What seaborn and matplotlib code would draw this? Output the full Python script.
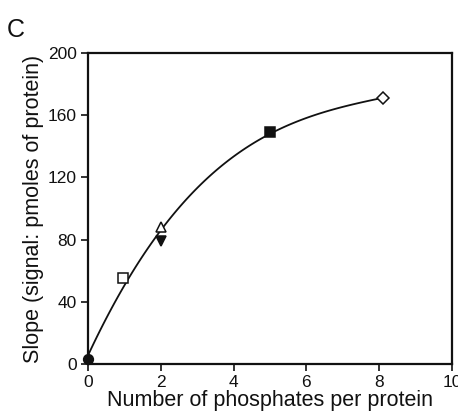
import matplotlib
matplotlib.use("Agg")
import matplotlib.pyplot as plt
import seaborn as sns
import pandas as pd
import numpy as np

sns.set_theme(style="ticks")
plt.rcParams['font.family'] = ['Liberation Sans', 'DejaVu Sans']

# data
phosphates = [0.0, 0.95, 2.0, 2.0, 5.0, 8.1]
slope = [3, 55, 88, 79, 149, 171]
markers = ["o", "s", "^", "v", "s", "D"]
filled = [True, False, False, True, True, False]
sizes = [7, 6.5, 7.5, 7.5, 6.5, 6.5]

df = pd.DataFrame({"x": phosphates, "y": slope})

fig = plt.figure(figsize=(4.58, 4.17), dpi=100)
ax = fig.add_axes([0.192, 0.127, 0.795, 0.746])

sns.regplot(data=df, x="x", y="y", order=3, ci=None, scatter=False,
            truncate=True, ax=ax, line_kws=dict(color="#111111", lw=1.3))

for x, y, m, f, s in zip(phosphates, slope, markers, filled, sizes):
    ax.plot([x], [y], marker=m, ms=s, mfc="#111111" if f else "white",
            mec="#111111", mew=1.1, ls="none", zorder=5, clip_on=False)

ax.set_xlim(0, 10)
ax.set_ylim(0, 200)
ax.set_xticks([0, 2, 4, 6, 8, 10])
ax.set_yticks([0, 40, 80, 120, 160, 200])
ax.tick_params(direction="out", length=5, width=1.2, labelsize=12.5,
               colors="#111111", pad=3)
for sp in ax.spines.values():
    sp.set_linewidth(1.6)
    sp.set_color("#111111")
    sp.set_visible(True)
ax.set_xlabel("Number of phosphates per protein", fontsize=15.5, color="#111111", labelpad=0)
ax.set_ylabel("Slope (signal: pmoles of protein)", fontsize=15.5, color="#111111", labelpad=3)
fig.text(0.015, 0.911, "C", fontsize=18, color="#111111")

fig.savefig("out.png", dpi=100)
